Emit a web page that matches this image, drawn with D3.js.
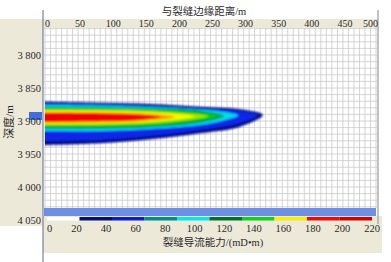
<!DOCTYPE html>
<html>
<head>
<meta charset="utf-8">
<script src="https://cdn.jsdelivr.net/npm/d3@7"></script>
<style>
  body { margin: 0; background: #fff; }
</style>
</head>
<body>
<div id="chart"></div>
<script>
// axis ticks
const distTicks = [0, 50, 100, 150, 200, 250, 300, 350, 400, 450, 500];
const depthTicks = [3800, 3850, 3900, 3950, 4000, 4050];
const depthLabels = ["3 800", "3 850", "3 900", "3 950", "4 000", "4 050"];
const condTicks = [0, 20, 40, 60, 80, 100, 120, 140, 160, 180, 200, 220];

// legend colour classes (mD·m)
const classBreaks = [0, 22, 44, 66, 88, 110, 132, 154, 176, 198, 220];
const classColors = ["#ffffff", "#00107a", "#0a1ed0", "#008c8c", "#00e8f0",
                     "#00702a", "#10d020", "#f6f000", "#ee0a0a", "#d00000"];

// plume bands, outermost first. stations: [distance m, top depth m, bottom depth m]
const bandColors = ["#000c8a", "#0a28e8", "#00dce6", "#00963a", "#10d010",
                    "#9ee800", "#f8f800", "#ff8a00", "#f00000"];
const bandStations = [
  [[0, 3870.8, 3936.4], [83, 3872.3, 3933.8], [159, 3874.2, 3927.7], [234, 3878.3, 3918.6], [295, 3882.3, 3908.6], [329, 3890.9, 3890.9]],
  [[0, 3873.5, 3930.3], [83, 3875.0, 3928.8], [159, 3877.3, 3922.7], [234, 3881.1, 3913.6], [295, 3884.8, 3903.0], [322, 3890.9, 3890.9]],
  [[0, 3875.8, 3915.2], [83, 3876.5, 3915.2], [159, 3878.8, 3912.1], [234, 3882.6, 3906.1], [272, 3886.4, 3898.5], [292, 3891.7, 3891.7]],
  [[0, 3878.8, 3911.4], [83, 3879.5, 3911.4], [159, 3881.1, 3909.1], [234, 3884.8, 3902.3], [270, 3892.4, 3892.4]],
  [[0, 3881.1, 3908.3], [83, 3881.4, 3908.3], [159, 3883.3, 3906.1], [224, 3887.1, 3900.0], [260, 3892.4, 3892.4]],
  [[0, 3882.6, 3906.5], [83, 3883.0, 3906.0], [165, 3885.0, 3903.5], [246, 3892.8, 3892.8]],
  [[0, 3884.1, 3904.5], [90, 3884.8, 3903.8], [165, 3887.1, 3900.8], [226, 3893.2, 3893.2]],
  [[0, 3886.4, 3902.7], [90, 3887.1, 3902.0], [150, 3889.0, 3899.5], [196, 3893.9, 3893.9]],
  [[0, 3887.9, 3901.1], [90, 3888.6, 3900.0], [140, 3890.2, 3898.5], [174, 3893.9, 3893.9]]
];

const width = 391, height = 262;
const beige = "#ece9d8";
const serif = "'Liberation Serif', 'Times New Roman', 'DejaVu Serif', 'Noto Sans CJK SC', serif";

const svg = d3.select("#chart").append("svg")
  .attr("width", width).attr("height", height)
  .attr("font-family", serif)
  .style("font-family", serif);

/* scales */
const x = d3.scaleLinear().domain([0, 500]).range([45, 376]);
const y = d3.scaleLinear().domain([3800, 4050]).range([55, 220]);
const c = d3.scaleLinear().domain([0, 220]).range([47, 372]);

/* panels */
svg.append("rect").attr("x", 0).attr("y", 19).attr("width", 378).attr("height", 9).attr("fill", beige);
svg.append("rect").attr("x", 0).attr("y", 19).attr("width", 43).attr("height", 207).attr("fill", beige);
svg.append("rect").attr("x", 43).attr("y", 216).attr("width", 339).attr("height", 37).attr("fill", beige);

/* plot area + grid */
const plotTop = 28, plotBottom = 208;
svg.append("rect").attr("x", 44).attr("y", plotTop).attr("width", 333).attr("height", plotBottom - plotTop).attr("fill", "#fff");
const grid = svg.append("g").attr("stroke", "#c9c9c9").attr("stroke-width", 0.8);
grid.selectAll("line.v").data(d3.range(0, 500.01, 500 / 60)).join("line")
  .attr("class", "v")
  .attr("x1", d => x(d)).attr("x2", d => x(d)).attr("y1", plotTop).attr("y2", plotBottom);
grid.selectAll("line.h").data(d3.range(3760, 4031, 10)).join("line")
  .attr("class", "h")
  .attr("x1", 44).attr("x2", 377).attr("y1", d => y(d)).attr("y2", d => y(d));

/* plume */
const defs = svg.append("defs");
defs.append("filter").attr("id", "soft").attr("x", "-10%").attr("y", "-30%").attr("width", "120%").attr("height", "160%")
  .append("feGaussianBlur").attr("stdDeviation", 0.8);
defs.append("clipPath").attr("id", "plot")
  .append("rect").attr("x", x(0)).attr("y", plotTop).attr("width", 333).attr("height", plotBottom - plotTop);

const outline = d3.line().curve(d3.curveCatmullRom.alpha(0.5));
const bandPath = st => {
  const s = [[-8, st[0][1], st[0][2]]].concat(st);
  const pts = s.map(d => [x(d[0]), y(d[1])])
    .concat(s.slice(0, -1).reverse().map(d => [x(d[0]), y(d[2])]));
  return outline(pts) + "Z";
};

svg.append("g").attr("clip-path", "url(#plot)")
  .append("g").attr("filter", "url(#soft)")
  .selectAll("path").data(bandStations).join("path")
  .attr("d", bandPath)
  .attr("fill", (d, i) => bandColors[i]);

/* light blue strip and colour legend */
svg.append("rect").attr("x", 44).attr("y", plotBottom).attr("width", 332).attr("height", 8).attr("fill", "#6e8fe2");
svg.append("g").selectAll("rect").data(classColors).join("rect")
  .attr("x", (d, i) => c(classBreaks[i]))
  .attr("y", 217)
  .attr("width", (d, i) => c(classBreaks[i + 1]) - c(classBreaks[i]))
  .attr("height", 3.5)
  .attr("fill", d => d);

/* frame lines */
svg.append("line").attr("x1", 43).attr("x2", 43).attr("y1", 10).attr("y2", 262)
  .attr("stroke", "#7a80a0").attr("stroke-width", 1.2);
svg.append("line").attr("x1", 378).attr("x2", 378).attr("y1", 10).attr("y2", 224)
  .attr("stroke", "#9a9a9a").attr("stroke-width", 1.2);

/* well marker */
svg.append("rect").attr("x", 29).attr("y", y(3900) - 9).attr("width", 13).attr("height", 8).attr("fill", "#3f6fd8");

const ink = "#2a2a2a";

/* top axis */
svg.append("g").attr("fill", ink).selectAll("text").data(distTicks).join("text")
  .attr("x", (d, i) => i === 0 ? x(d) : x(d) + 2)
  .attr("y", 27)
  .attr("text-anchor", (d, i) => i === 0 ? "start" : (i === distTicks.length - 1 ? "end" : "middle"))
  .attr("font-size", 10)
  .text(d => d);

/* left axis */
svg.append("g").attr("fill", ink).selectAll("text").data(depthTicks).join("text")
  .attr("x", 41)
  .attr("y", d => y(d) + 3.5)
  .attr("text-anchor", "end")
  .attr("font-size", 10.5)
  .text((d, i) => depthLabels[i]);

/* bottom axis */
svg.append("g").attr("fill", ink).selectAll("text").data(condTicks).join("text")
  .attr("x", c)
  .attr("y", 232)
  .attr("text-anchor", (d, i) => i === 0 ? "start" : "middle")
  .attr("font-size", 10.5)
  .text(d => d);

/* titles */
svg.append("text").attr("fill", ink).attr("x", 204).attr("y", 15).attr("text-anchor", "middle")
  .attr("font-size", 10.5).text("与裂缝边缘距离/m");
svg.append("text").attr("fill", ink).attr("x", 213).attr("y", 246).attr("text-anchor", "middle")
  .attr("font-size", 10.5).text("裂缝导流能力/(mD•m)");
svg.append("text").attr("fill", ink).attr("transform", "translate(13,122) rotate(-90)").attr("text-anchor", "middle")
  .attr("font-size", 11).text("深度/m");
</script>
</body>
</html>
